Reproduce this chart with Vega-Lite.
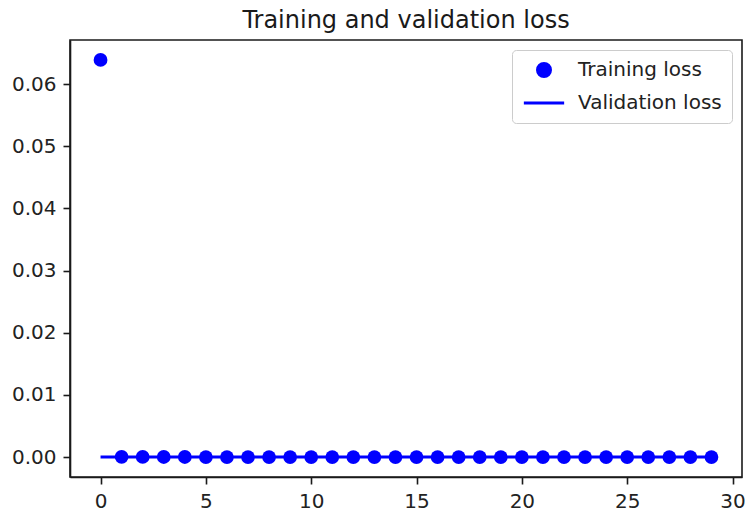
{
  "$schema": "https://vega.github.io/schema/vega-lite/v6.json",
  "autosize": {"type": "none"},
  "width": 672,
  "height": 437,
  "padding": {"left": 70, "top": 40, "right": 3, "bottom": 36},
  "title": {"text": "Training and validation loss", "font": "DejaVu Sans", "fontSize": 24, "fontWeight": "normal", "color": "#1a1a1a", "offset": 7},
  "config": {
    "view": {"stroke": "#1a1a1a", "strokeWidth": 1.6},
    "axis": {"grid": false, "domainColor": "#1a1a1a", "domainWidth": 1.6, "tickColor": "#1a1a1a", "tickWidth": 1.6, "tickSize": 7, "labelFont": "DejaVu Sans", "labelFontSize": 20, "labelColor": "#222", "title": null, "labelPadding": 7}
  },
  "datasets": {
    "train": [
      {"epoch": 0, "loss": 0.0639, "series": "Training loss"},
      {"epoch": 1, "loss": 0.00005, "series": "Training loss"},
      {"epoch": 2, "loss": 0.00003, "series": "Training loss"},
      {"epoch": 3, "loss": 0.00002, "series": "Training loss"},
      {"epoch": 4, "loss": 0.00002, "series": "Training loss"},
      {"epoch": 5, "loss": 0.00001, "series": "Training loss"},
      {"epoch": 6, "loss": 0.00001, "series": "Training loss"},
      {"epoch": 7, "loss": 0.00001, "series": "Training loss"},
      {"epoch": 8, "loss": 0.00001, "series": "Training loss"},
      {"epoch": 9, "loss": 0.00001, "series": "Training loss"},
      {"epoch": 10, "loss": 0.00001, "series": "Training loss"},
      {"epoch": 11, "loss": 0.00001, "series": "Training loss"},
      {"epoch": 12, "loss": 0.00001, "series": "Training loss"},
      {"epoch": 13, "loss": 0.00001, "series": "Training loss"},
      {"epoch": 14, "loss": 0.00001, "series": "Training loss"},
      {"epoch": 15, "loss": 0.00001, "series": "Training loss"},
      {"epoch": 16, "loss": 0.00001, "series": "Training loss"},
      {"epoch": 17, "loss": 0.00001, "series": "Training loss"},
      {"epoch": 18, "loss": 0.00001, "series": "Training loss"},
      {"epoch": 19, "loss": 0.00001, "series": "Training loss"},
      {"epoch": 20, "loss": 0.00001, "series": "Training loss"},
      {"epoch": 21, "loss": 0.00001, "series": "Training loss"},
      {"epoch": 22, "loss": 0.00001, "series": "Training loss"},
      {"epoch": 23, "loss": 0.00001, "series": "Training loss"},
      {"epoch": 24, "loss": 0.00001, "series": "Training loss"},
      {"epoch": 25, "loss": 0.00001, "series": "Training loss"},
      {"epoch": 26, "loss": 0.00001, "series": "Training loss"},
      {"epoch": 27, "loss": 0.00001, "series": "Training loss"},
      {"epoch": 28, "loss": 0.00001, "series": "Training loss"},
      {"epoch": 29, "loss": 0.00001, "series": "Training loss"}
    ],
    "val": [
      {"epoch": 0, "loss": 0.00002, "series": "Validation loss"},
      {"epoch": 1, "loss": 0.00001, "series": "Validation loss"},
      {"epoch": 2, "loss": 0.00001, "series": "Validation loss"},
      {"epoch": 3, "loss": 0.00001, "series": "Validation loss"},
      {"epoch": 4, "loss": 0.00001, "series": "Validation loss"},
      {"epoch": 5, "loss": 0.00001, "series": "Validation loss"},
      {"epoch": 6, "loss": 0.00001, "series": "Validation loss"},
      {"epoch": 7, "loss": 0.00001, "series": "Validation loss"},
      {"epoch": 8, "loss": 0.00001, "series": "Validation loss"},
      {"epoch": 9, "loss": 0.00001, "series": "Validation loss"},
      {"epoch": 10, "loss": 0.00001, "series": "Validation loss"},
      {"epoch": 11, "loss": 0.00001, "series": "Validation loss"},
      {"epoch": 12, "loss": 0.00001, "series": "Validation loss"},
      {"epoch": 13, "loss": 0.00001, "series": "Validation loss"},
      {"epoch": 14, "loss": 0.00001, "series": "Validation loss"},
      {"epoch": 15, "loss": 0.00001, "series": "Validation loss"},
      {"epoch": 16, "loss": 0.00001, "series": "Validation loss"},
      {"epoch": 17, "loss": 0.00001, "series": "Validation loss"},
      {"epoch": 18, "loss": 0.00001, "series": "Validation loss"},
      {"epoch": 19, "loss": 0.00001, "series": "Validation loss"},
      {"epoch": 20, "loss": 0.00001, "series": "Validation loss"},
      {"epoch": 21, "loss": 0.00001, "series": "Validation loss"},
      {"epoch": 22, "loss": 0.00001, "series": "Validation loss"},
      {"epoch": 23, "loss": 0.00001, "series": "Validation loss"},
      {"epoch": 24, "loss": 0.00001, "series": "Validation loss"},
      {"epoch": 25, "loss": 0.00001, "series": "Validation loss"},
      {"epoch": 26, "loss": 0.00001, "series": "Validation loss"},
      {"epoch": 27, "loss": 0.00001, "series": "Validation loss"},
      {"epoch": 28, "loss": 0.00001, "series": "Validation loss"},
      {"epoch": 29, "loss": 0.00001, "series": "Validation loss"}
    ]
  },
  "encoding": {
    "x": {"field": "epoch", "type": "quantitative", "scale": {"domain": [-1.45, 30.45], "nice": false, "zero": false}, "axis": {"values": [0, 5, 10, 15, 20, 25, 30]}},
    "y": {"field": "loss", "type": "quantitative", "scale": {"domain": [-0.0032, 0.0671], "nice": false, "zero": false}, "axis": {"values": [0, 0.01, 0.02, 0.03, 0.04, 0.05, 0.06], "format": ".2f"}}
  },
  "layer": [
    {
      "data": {"name": "train"},
      "mark": {"type": "point", "filled": true, "size": 190, "opacity": 1},
      "encoding": {
        "color": {"field": "series", "type": "nominal", "scale": {"domain": ["Training loss", "Validation loss"], "range": ["#0000ff", "#0000ff"]},
          "legend": {"title": null, "orient": "top-right", "offset": 10, "labelFont": "DejaVu Sans", "labelFontSize": 20, "labelColor": "#222", "strokeColor": "#cccccc", "fillColor": "#fff", "cornerRadius": 4, "padding": 10, "symbolSize": 169, "symbolStrokeColor": "#0000ff", "symbolStrokeWidth": 3, "symbolOffset": 12, "rowPadding": 10, "labelOffset": 24}},
        "shape": {"field": "series", "type": "nominal", "scale": {"domain": ["Training loss", "Validation loss"], "range": ["circle", "M-3.1,0H3.1"]}}
      }
    },
    {
      "data": {"name": "val"},
      "mark": {"type": "line", "strokeWidth": 3, "color": "#0000ff"},
      "encoding": {
        "color": {"field": "series", "type": "nominal"}
      }
    }
  ]
}
